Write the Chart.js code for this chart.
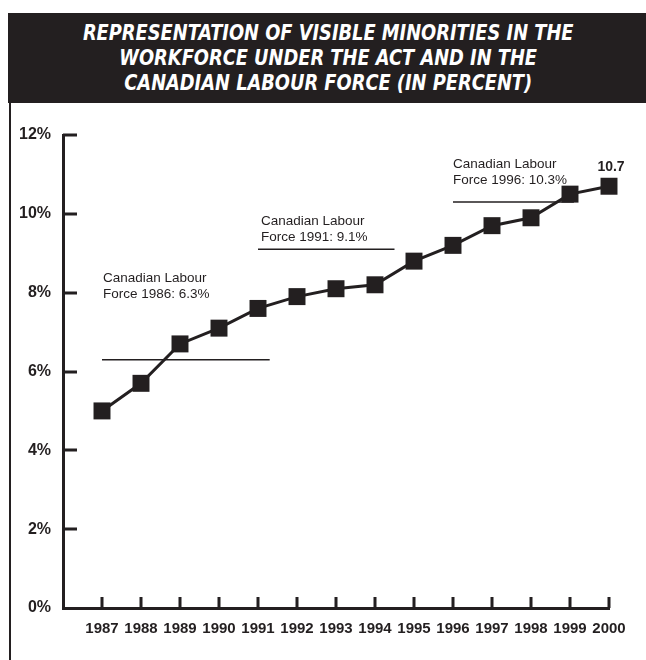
<!DOCTYPE html>
<html>
<head>
<meta charset="utf-8">
<script src="https://cdn.jsdelivr.net/npm/chart.js@4.4.1/dist/chart.umd.min.js"></script>
<style>
  html, body { margin: 0; padding: 0; background: #fff; }
  #wrap { position: relative; width: 646px; height: 660px; overflow: hidden; }
  #header {
    position: absolute; left: 8px; top: 13px; width: 638px; height: 90px;
    background: #231f20;
  }
  #header div {
    color: #fff; text-align: center; width: 638px;
    font-family: "Liberation Sans Narrow", "DejaVu Sans Condensed", "Liberation Sans", sans-serif;
    font-style: italic; font-weight: bold; font-size: 22px; line-height: 25px;
    padding-top: 7px; transform: scaleX(0.9); transform-origin: 331px 0;
  }
  #frame { position: absolute; left: 9px; top: 103px; width: 2px; height: 557px; background: #231f20; }
  #chart { position: absolute; left: 0; top: 0; }
</style>
</head>
<body>
<div id="wrap">
  <canvas id="chart" width="646" height="660"></canvas>
  <div id="header"><div>REPRESENTATION OF VISIBLE MINORITIES IN THE<br>WORKFORCE UNDER THE ACT AND IN THE<br>CANADIAN LABOUR FORCE (IN PERCENT)</div></div>
  <div id="frame"></div>
</div>
<script>
// workforce representation by year
const years = [1987, 1988, 1989, 1990, 1991, 1992, 1993, 1994, 1995, 1996, 1997, 1998, 1999, 2000];
const values = [5.0, 5.7, 6.7, 7.1, 7.6, 7.9, 8.1, 8.2, 8.8, 9.2, 9.7, 9.9, 10.5, 10.7];
const yTicks = [0, 2, 4, 6, 8, 10, 12];

// census benchmarks for the Canadian labour force
const censusYears = [1986, 1991, 1996];
const censusValues = [6.3, 9.1, 10.3];

const ink = '#231f20';

// where each benchmark line runs (in years) and where its caption sits
const benchSpan = [[1987, 1991.3], [1991, 1994.5], [1996, 1999.1]];
const captionShift = [{dx: 1, gap: 62}, {dx: 3, gap: 8}, {dx: 0, gap: 18}];

const datasets = [{
  data: years.map((y, i) => ({x: y, y: values[i]})),
  borderColor: ink,
  borderWidth: 3,
  pointStyle: 'rect',
  pointRadius: 12,
  pointBackgroundColor: ink,
  pointBorderWidth: 0,
  tension: 0,
  clip: false
}];
censusValues.forEach((v, i) => {
  datasets.push({
    data: [{x: benchSpan[i][0], y: v}, {x: benchSpan[i][1], y: v}],
    borderColor: ink,
    borderWidth: 1.5,
    pointRadius: 0,
    clip: false
  });
});

// small tick marks pointing into the plot, plus the captions
const extras = {
  id: 'extras',
  afterDraw(chart) {
    const {ctx, scales: {x, y}} = chart;
    ctx.save();
    ctx.strokeStyle = ink;
    ctx.lineWidth = 3;
    ctx.beginPath();
    yTicks.slice(1).forEach(t => {
      const py = Math.round(y.getPixelForValue(t));
      ctx.moveTo(x.left, py);
      ctx.lineTo(x.left + 14, py);
    });
    years.forEach(yr => {
      const px = Math.round(x.getPixelForValue(yr));
      ctx.moveTo(px, y.bottom);
      ctx.lineTo(px, y.bottom - 11);
    });
    ctx.stroke();

    ctx.fillStyle = ink;
    ctx.font = '13.5px "Liberation Sans", Arial, sans-serif';
    ctx.textAlign = 'left';
    ctx.textBaseline = 'alphabetic';
    censusValues.forEach((v, i) => {
      const px = x.getPixelForValue(benchSpan[i][0]) + captionShift[i].dx;
      const base = y.getPixelForValue(v) - captionShift[i].gap;
      ctx.fillText('Canadian Labour', px, base - 16);
      ctx.fillText('Force ' + censusYears[i] + ': ' + v + '%', px, base);
    });

    const last = values.length - 1;
    ctx.font = 'bold 14px "Liberation Sans", Arial, sans-serif';
    ctx.textAlign = 'center';
    ctx.fillText(values[last].toFixed(1), x.getPixelForValue(years[last]) + 2, y.getPixelForValue(values[last]) - 15);
    ctx.restore();
  }
};

new Chart(document.getElementById('chart'), {
  type: 'line',
  data: {datasets: datasets},
  options: {
    responsive: false,
    animation: false,
    layout: {padding: {left: 0, right: 37, top: 135, bottom: 0}},
    plugins: {legend: {display: false}, tooltip: {enabled: false}},
    scales: {
      x: {
        type: 'linear',
        min: 1986,
        max: 2000,
        afterBuildTicks: s => { s.ticks = years.map(v => ({value: v})); },
        afterFit: s => { s.height = 52; },
        grid: {display: false, drawTicks: false},
        border: {display: true, width: 3, color: ink},
        ticks: {
          autoSkip: false,
          maxRotation: 0,
          padding: 12,
          color: ink,
          font: {family: '"Liberation Sans", Arial, sans-serif', size: 15, weight: 'bold'},
          callback: v => String(v)
        }
      },
      y: {
        min: 0,
        max: 12,
        afterBuildTicks: s => { s.ticks = yTicks.map(v => ({value: v})); },
        afterFit: s => { s.width = 63; },
        grid: {display: false, drawTicks: false},
        border: {display: true, width: 3, color: ink},
        ticks: {
          padding: 12,
          color: ink,
          font: {family: '"Liberation Sans", Arial, sans-serif', size: 16, weight: 'bold'},
          callback: v => v + '%'
        }
      }
    }
  },
  plugins: [extras]
});
</script>
</body>
</html>
